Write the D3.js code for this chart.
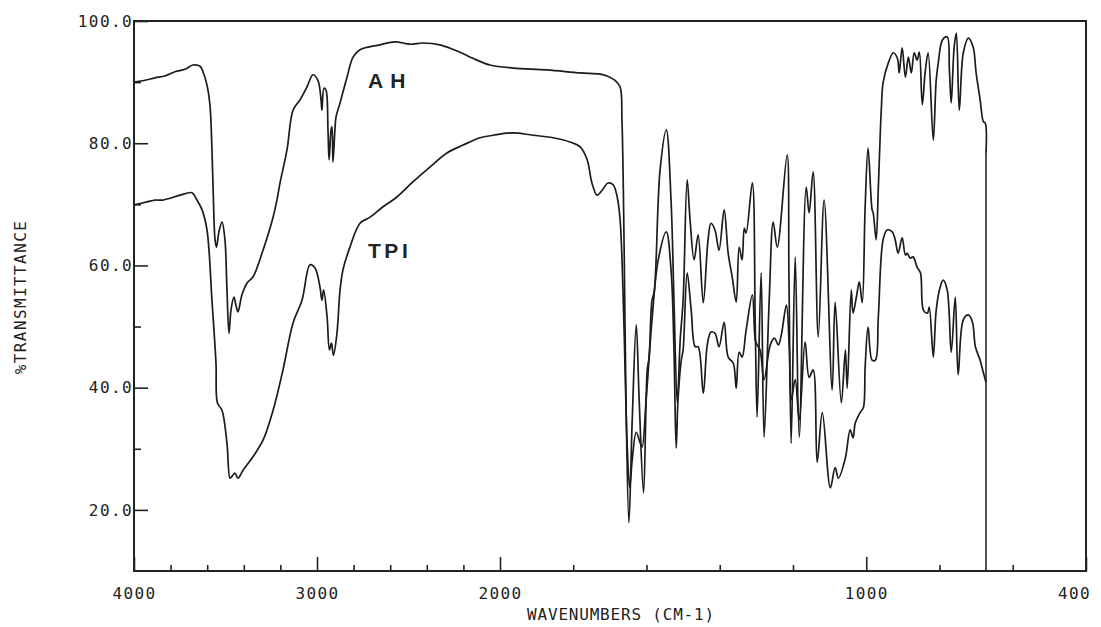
<!DOCTYPE html>
<html>
<head>
<meta charset="utf-8">
<script src="https://cdn.jsdelivr.net/npm/d3@7"></script>
<style>
  body { margin: 0; background: #fff; }
  svg text { font-family: "DejaVu Sans Mono", monospace; fill: #222; }
</style>
</head>
<body>
<div id="chart"></div>
<script>
// [wavenumber cm-1, %T]
const ahSpectrum = [
  [4000,90.0],[3940,90.3],[3885,90.7],[3831,91.0],[3776,91.7],[3721,92.1],[3678,92.8],[3639,92.6],
  [3623,91.7],[3601,89.5],[3585,86.3],[3574,78.9],[3566,70.7],[3557,64.2],[3549,63.0],[3536,65.5],
  [3519,67.1],[3503,64.2],[3492,56.0],[3481,48.9],[3470,52.7],[3454,54.8],[3443,53.5],[3432,52.4],
  [3410,55.2],[3383,57.1],[3350,58.1],[3322,60.1],[3295,62.5],[3268,65.0],[3240,67.9],[3219,70.7],
  [3202,73.5],[3164,78.9],[3131,85.4],[3093,87.1],[3055,89.2],[3022,91.2],[2995,90.3],[2978,87.1],
  [2973,85.4],[2962,89.0],[2951,88.7],[2940,82.2],[2934,77.3],[2923,82.2],[2918,82.7],[2913,76.9],
  [2902,82.2],[2896,84.3],[2874,86.6],[2836,90.8],[2803,94.1],[2765,95.3],[2656,96.1],[2574,96.6],
  [2492,96.2],[2421,96.4],[2328,96.1],[2219,94.9],[2148,93.9],[2055,92.8],[1964,92.3],[1872,92.0],
  [1781,91.5],[1727,91.3],[1708,91.0],[1686,90.3],[1672,89.2],[1667,83.8],[1661,62.5],[1656,38.0],
  [1648,17.9],[1639,34.7],[1628,50.3],[1620,38.0],[1608,22.8],[1598,42.9],[1593,44.9],[1585,54.3],
  [1579,55.7],[1563,75.6],[1546,82.2],[1533,70.7],[1525,54.3],[1516,37.5],[1508,47.8],[1500,54.3],
  [1489,74.0],[1481,67.4],[1470,60.9],[1459,65.0],[1445,53.9],[1432,64.2],[1424,66.9],[1413,65.8],
  [1402,62.5],[1388,69.1],[1377,62.0],[1366,58.1],[1355,54.0],[1347,63.0],[1339,60.9],[1333,66.1],
  [1328,65.3],[1311,73.5],[1303,49.9],[1298,35.2],[1287,58.8],[1279,31.9],[1265,54.3],[1254,67.1],
  [1243,63.0],[1216,78.1],[1211,57.6],[1205,30.9],[1194,61.4],[1183,31.9],[1164,72.8],[1156,68.6],
  [1145,75.3],[1131,48.3],[1115,70.7],[1093,39.6],[1085,54.0],[1068,37.5],[1057,46.2],[1052,39.9],
  [1041,56.0],[1036,52.2],[1027,54.8],[1019,57.3],[1011,53.9],[1003,69.6],[995,79.2],[984,69.1],
  [981,68.6],[973,64.2],[967,72.8],[959,85.4],[954,89.9],[940,93.1],[926,94.8],[915,93.9],
  [910,91.5],[902,95.6],[893,90.8],[885,94.1],[877,91.5],[869,94.8],[861,93.6],[855,94.9],
  [847,86.3],[839,91.7],[831,94.8],[817,80.5],[809,90.3],[803,93.3],[792,96.9],[779,97.4],
  [773,92.0],[768,86.6],[760,95.7],[754,98.0],[746,85.4],[735,94.8],[721,97.2],[708,95.7],
  [700,91.5],[689,87.1],[680,83.5],[675,83.3],[673,78.4]
];

const tpiSpectrum = [
  [4000,69.9],[3929,70.4],[3885,70.7],[3842,70.7],[3803,71.0],[3749,71.5],[3683,71.9],[3656,70.7],
  [3628,69.1],[3601,65.8],[3574,54.3],[3552,44.0],[3544,37.5],[3519,36.3],[3492,30.9],[3475,25.2],
  [3464,25.5],[3448,26.0],[3432,25.2],[3404,26.5],[3350,28.7],[3295,31.4],[3240,36.3],[3186,42.9],
  [3131,50.6],[3082,54.3],[3038,60.1],[3011,59.6],[2984,56.5],[2973,54.3],[2964,56.0],[2945,51.6],
  [2932,46.2],[2921,47.3],[2910,45.3],[2891,48.9],[2874,56.0],[2858,59.3],[2820,63.0],[2765,66.9],
  [2710,67.9],[2639,69.6],[2563,71.2],[2475,73.7],[2383,76.1],[2290,78.4],[2202,79.7],[2109,80.9],
  [2038,81.3],[1964,81.7],[1910,81.3],[1855,80.9],[1809,80.2],[1781,79.4],[1762,77.3],[1749,73.5],
  [1735,71.5],[1721,72.3],[1705,73.5],[1691,73.2],[1680,71.2],[1672,67.4],[1664,55.5],[1658,41.7],
  [1653,30.9],[1646,23.7],[1639,28.2],[1628,32.7],[1617,30.9],[1612,30.3],[1601,38.0],[1585,51.1],
  [1568,60.9],[1546,65.5],[1533,59.3],[1525,46.2],[1519,30.1],[1514,38.0],[1505,44.5],[1500,46.2],
  [1489,58.8],[1478,52.7],[1467,46.7],[1459,46.7],[1445,39.1],[1434,47.0],[1424,49.1],[1413,48.9],
  [1402,46.7],[1388,50.7],[1377,45.0],[1363,44.0],[1355,39.9],[1347,45.8],[1339,45.0],[1328,49.4],
  [1311,55.2],[1303,47.8],[1298,47.0],[1290,46.2],[1279,41.3],[1262,47.0],[1251,48.1],[1240,47.0],
  [1232,48.6],[1218,53.5],[1210,46.2],[1205,38.0],[1194,41.3],[1183,34.7],[1167,47.5],[1156,41.7],
  [1145,42.9],[1134,27.8],[1120,35.9],[1098,23.6],[1085,26.9],[1076,25.2],[1057,28.5],[1044,33.1],
  [1036,31.8],[1030,34.2],[1016,36.0],[1008,36.7],[1003,43.4],[995,49.9],[984,44.5],[975,44.5],
  [967,51.6],[954,64.2],[943,65.8],[929,65.5],[921,64.2],[913,62.0],[902,64.5],[893,61.7],
  [888,62.0],[880,61.2],[872,61.4],[861,59.7],[852,58.8],[844,52.7],[833,52.2],[828,53.2],
  [817,45.0],[809,52.7],[798,56.5],[790,57.6],[779,56.0],[768,45.8],[757,54.8],[749,42.1],
  [735,51.1],[721,51.9],[710,50.7],[702,46.7],[689,44.5],[680,42.4],[673,40.9]
];

const xMajorTicks = [4000, 3000, 2000, 1000, 400];
const xMinorTicks = [3800, 3600, 3400, 3200, 2800, 2600, 2400, 2200, 1800, 1600, 1400, 1200, 800, 600];
const yMajorTicks = [100, 80, 60, 40, 20];
const yMinorTicks = [90, 70, 50, 30];
const scanEnd = 673;

const labels = [
  { text: "AH", wn: 2721, t: 89.0, spacing: 7 },
  { text: "TPI", wn: 2721, t: 61.2, spacing: 3.5 }
];

const width = 1101;
const height = 627;
const margin = { top: 21, right: 15, bottom: 56, left: 134 };

const svg = d3.select('#chart')
  .append('svg')
  .attr('width', width)
  .attr('height', height);

// spectrometer scale doubles below 2000 cm-1
const x = d3.scaleLinear()
  .domain([4000, 2000, 400])
  .range([margin.left, 500, width - margin.right]);

const y = d3.scaleLinear()
  .domain([10, 100])
  .range([height - margin.bottom, margin.top]);

const fmtY = d => d.toFixed(1);

// minor ticks first
svg.append('g')
  .attr('transform', `translate(0,${height - margin.bottom})`)
  .call(d3.axisBottom(x).tickValues(xMinorTicks).tickSize(-6).tickFormat(''))
  .call(g => g.select('.domain').remove());

svg.append('g')
  .attr('transform', `translate(${margin.left},0)`)
  .call(d3.axisLeft(y).tickValues(yMinorTicks).tickSize(-7).tickFormat(''))
  .call(g => g.select('.domain').remove());

const xAxis = svg.append('g')
  .attr('transform', `translate(0,${height - margin.bottom})`)
  .call(d3.axisBottom(x).tickValues(xMajorTicks).tickSize(-14).tickPadding(17).tickFormat(d => d))
  .call(g => g.select('.domain').remove());

// last label sits against the page edge
xAxis.selectAll('.tick text').filter(d => d === 400).attr('dx', -12);

const yAxis = svg.append('g')
  .attr('transform', `translate(${margin.left},0)`)
  .call(d3.axisLeft(y).tickValues(yMajorTicks).tickSize(-14).tickPadding(1).tickFormat(fmtY))
  .call(g => g.select('.domain').remove());

svg.selectAll('.tick line').attr('stroke', '#222').attr('stroke-width', 1.6);
svg.selectAll('.tick text')
  .attr('font-family', '"DejaVu Sans Mono", monospace')
  .attr('font-size', 16)
  .attr('letter-spacing', 1.4)
  .attr('fill', '#222');

// frame
svg.append('rect')
  .attr('x', margin.left)
  .attr('y', margin.top)
  .attr('width', width - margin.left - margin.right)
  .attr('height', height - margin.top - margin.bottom)
  .attr('fill', 'none')
  .attr('stroke', '#222')
  .attr('stroke-width', 2);

const line = d3.line()
  .x(d => x(d[0]))
  .y(d => y(d[1]))
  .curve(d3.curveCatmullRom.alpha(0.5));

[ahSpectrum, tpiSpectrum].forEach(s => {
  svg.append('path')
    .datum(s)
    .attr('d', line)
    .attr('fill', 'none')
    .attr('stroke', '#1c1c1c')
    .attr('stroke-width', 1.7)
    .attr('stroke-linejoin', 'round');
});

// pen drop at end of scan
svg.append('line')
  .attr('x1', x(scanEnd)).attr('x2', x(scanEnd))
  .attr('y1', y(ahSpectrum[ahSpectrum.length - 1][1]))
  .attr('y2', y(10))
  .attr('stroke', '#1c1c1c')
  .attr('stroke-width', 1.5);

svg.selectAll('.curve-label')
  .data(labels)
  .join('text')
    .attr('x', d => x(d.wn))
    .attr('y', d => y(d.t))
    .attr('font-weight', 'bold')
    .attr('font-size', 21)
    .attr('letter-spacing', d => d.spacing)
    .style('font-family', '"Liberation Sans", Arial, sans-serif')
    .text(d => d.text);

svg.append('text')
  .attr('x', 621)
  .attr('y', 620)
  .attr('text-anchor', 'middle')
  .attr('font-size', 16)
  .attr('letter-spacing', 0.8)
  .text('WAVENUMBERS (CM-1)');

svg.append('text')
  .attr('transform', 'translate(26,297) rotate(-90)')
  .attr('text-anchor', 'middle')
  .attr('font-size', 16)
  .attr('letter-spacing', 1.4)
  .text('%TRANSMITTANCE');
</script>
</body>
</html>
